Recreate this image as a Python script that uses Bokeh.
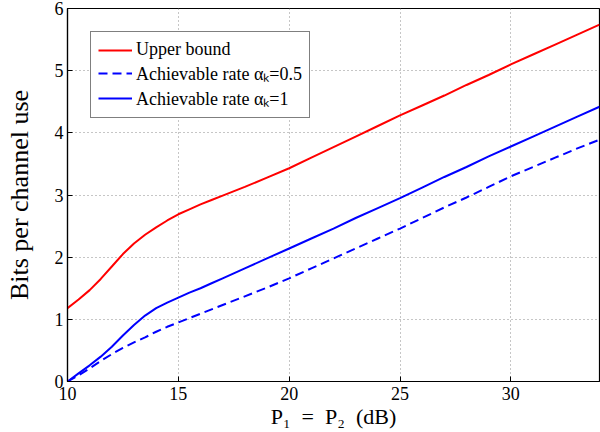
from bokeh.plotting import figure
from bokeh.models import Range1d, FixedTicker, Legend, LegendItem
from bokeh.embed import file_html
from bokeh.resources import INLINE

# Transmit power P1 = P2 in dB (finer steps around the knee)
power_db = [10, 10.5, 11, 11.5, 12, 12.5, 13, 13.5, 14, 14.5, 15, 15.5, 16,
            16.5, 17, 18, 19, 20, 21, 22, 23, 24, 25, 26, 27, 28, 29, 30,
            31, 32, 33, 34]

# Rates in bits per channel use
upper_bound = [1.18, 1.32, 1.47, 1.65, 1.85, 2.05, 2.22, 2.36, 2.48, 2.59,
               2.69, 2.77, 2.85, 2.92, 2.99, 3.13, 3.28, 3.43, 3.60, 3.77,
               3.94, 4.11, 4.28, 4.44, 4.60, 4.77, 4.93, 5.10, 5.26, 5.42,
               5.58, 5.74]
rate_alpha_05 = [0.00, 0.10, 0.21, 0.33, 0.44, 0.54, 0.63, 0.71, 0.80, 0.88,
                 0.95, 1.02, 1.09, 1.16, 1.23, 1.37, 1.51, 1.66, 1.82, 1.98,
                 2.14, 2.30, 2.46, 2.63, 2.80, 2.96, 3.13, 3.30, 3.45, 3.60,
                 3.75, 3.89]
rate_alpha_1 = [0.00, 0.13, 0.26, 0.40, 0.56, 0.74, 0.91, 1.06, 1.18, 1.27,
                1.35, 1.43, 1.50, 1.58, 1.66, 1.82, 1.98, 2.14, 2.30, 2.46,
                2.63, 2.79, 2.95, 3.12, 3.29, 3.45, 3.62, 3.78, 3.94, 4.10,
                4.26, 4.42]

x_ticks = [10, 15, 20, 25, 30]
y_ticks = [0, 1, 2, 3, 4, 5, 6]

label_upper = "Upper bound"
label_05 = "Achievable rate \u03b1\u2096=0.5"
label_1 = "Achievable rate \u03b1\u2096=1"
xlabel = "P\u2081\u2002=\u2002P\u2082\u2002(dB)"
ylabel = "Bits per channel use"

SERIF = "Times"

p = figure(width=600, height=432, output_backend="svg", toolbar_location=None,
           x_range=Range1d(10, 34), y_range=Range1d(0, 6),
           min_border_left=67, min_border_right=1, min_border_top=8,
           min_border_bottom=51)

p.background_fill_color = "white"
p.border_fill_color = "white"
p.outline_line_color = "black"
p.outline_line_width = 1.2

# axes: inward ticks, serif labels
for ax in (p.xaxis[0], p.yaxis[0]):
    ax.major_tick_in = 5
    ax.major_tick_out = 0
    ax.minor_tick_in = 0
    ax.minor_tick_out = 0
    ax.axis_line_color = "black"
    ax.axis_line_width = 1.2
    ax.major_tick_line_color = "black"
    ax.major_label_text_font = SERIF
    ax.major_label_text_font_size = "18px"
    ax.major_label_text_color = "black"
    ax.axis_label_text_font = SERIF
    ax.axis_label_text_font_style = "normal"
    ax.axis_label_text_color = "black"

p.xaxis.ticker = FixedTicker(ticks=x_ticks)
p.yaxis.ticker = FixedTicker(ticks=y_ticks)
p.xaxis.major_label_standoff = 5
p.yaxis.major_label_standoff = 4
p.xaxis.axis_label = xlabel
p.xaxis.axis_label_text_font_size = "22px"
p.xaxis.axis_label_standoff = 1
p.yaxis.axis_label = ylabel
p.yaxis.axis_label_text_font_size = "26px"
p.yaxis.axis_label_standoff = 18

# dotted grid
for g in (p.xgrid[0], p.ygrid[0]):
    g.grid_line_color = "#8c8c8c"
    g.grid_line_dash = "1 3"
    g.grid_line_width = 1

r_upper = p.line(power_db, upper_bound, line_color="#ff0000", line_width=2)
r_05 = p.line(power_db, rate_alpha_05, line_color="#0000ff", line_width=2,
              line_dash="9 5")
r_1 = p.line(power_db, rate_alpha_1, line_color="#0000ff", line_width=2)

legend = Legend(items=[LegendItem(label=label_upper, renderers=[r_upper]),
                       LegendItem(label=label_05, renderers=[r_05]),
                       LegendItem(label=label_1, renderers=[r_1])],
                location="top_left")
legend.margin = 23
legend.padding = 7
legend.spacing = 1
legend.glyph_width = 34
legend.glyph_height = 20
legend.label_text_font = SERIF
legend.label_text_font_size = "18px"
legend.label_text_color = "black"
legend.label_standoff = 4
legend.border_line_color = "black"
legend.border_line_width = 1.2
legend.background_fill_alpha = 1
p.add_layout(legend)

open("out.html", "w").write(file_html(p, INLINE))
